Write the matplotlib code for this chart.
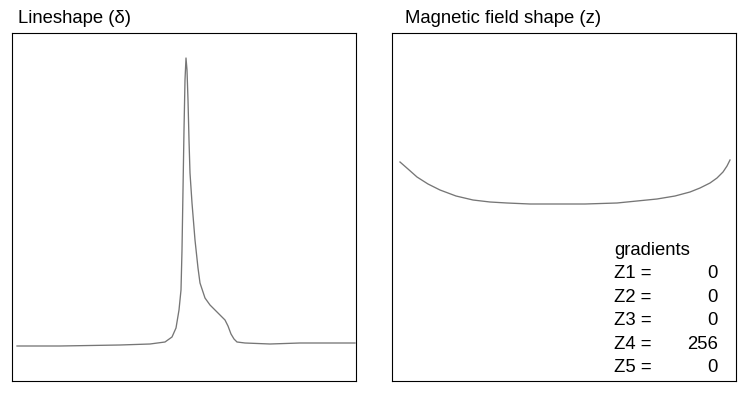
import numpy as np
import matplotlib
matplotlib.use("Agg")
import matplotlib.pyplot as plt

plt.rcParams['font.family'] = ['Liberation Sans', 'DejaVu Sans']

# lineshape trace (arbitrary frequency units, intensity units)
shape_x = [5, 48, 108, 138, 153, 160, 164, 167, 169, 170, 171, 172, 173, 174,
           175, 176, 177, 178, 180, 183, 186, 188, 193, 198, 203, 208, 213,
           216, 219, 222, 225, 233, 258, 288, 343]
shape_y = [35, 35, 36, 37, 39, 44, 53, 71, 91, 131, 191, 251, 301, 323,
           311, 281, 241, 208, 178, 141, 113, 98, 83, 76, 71, 66, 61, 55,
           47, 42, 39, 38, 37, 38, 38]

# magnetic field profile along z
field_z = [8, 16, 25, 36, 48, 64, 81, 98, 115, 138, 165, 193, 225, 245,
           265, 283, 298, 308, 318, 325, 331, 335, 338]
field_b = [219, 212, 204, 197, 191, 185, 181, 179, 178, 177, 177, 177, 178,
           180, 182, 185, 189, 193, 198, 203, 209, 215, 221]

grad_names = ['Z1', 'Z2', 'Z3', 'Z4', 'Z5']
grad_values = [0, 0, 0, 256, 0]

fig = plt.figure(figsize=(7.52, 3.96), dpi=100)
W, H = 752, 396

ax1 = fig.add_axes([12 / W, 1 - 381 / H, 344 / W, 348 / H])
ax2 = fig.add_axes([392 / W, 1 - 381 / H, 344 / W, 348 / H])

line_color = '#767676'
ax1.plot(shape_x, shape_y, color=line_color, lw=0.95)
ax2.plot(field_z, field_b, color=line_color, lw=0.95)

for ax in (ax1, ax2):
    ax.set_xlim(0, 344)
    ax.set_ylim(0, 348)
    ax.set_xticks([])
    ax.set_yticks([])
    for sp in ax.spines.values():
        sp.set_linewidth(0.8)
        sp.set_color('black')

fs = 13.3
ax1.text(6 / 344, 1 + 10 / 348, 'Lineshape (δ)', transform=ax1.transAxes,
         fontsize=fs, va='baseline', ha='left')
ax2.text(13 / 344, 1 + 10 / 348, 'Magnetic field shape (z)', transform=ax2.transAxes,
         fontsize=fs, va='baseline', ha='left')

# gradient readout
row_h = 23.4
base_y = 381 - 250.5
ax2.text(222, base_y, 'gradients', fontsize=fs, va='center', ha='left')
for i, (name, val) in enumerate(zip(grad_names, grad_values)):
    y = base_y - (i + 1) * row_h
    ax2.text(222, y, f'{name} =', fontsize=fs, va='center', ha='left')
    ax2.text(326, y, f'{val}', fontsize=fs, va='center', ha='right')

fig.savefig('out.png', dpi=100)
